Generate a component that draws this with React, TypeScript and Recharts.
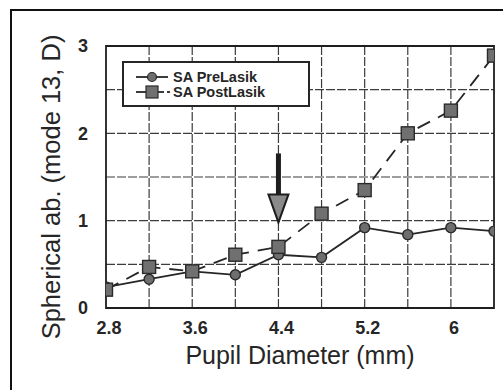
import React from 'react';
import {
  LineChart,
  Line,
  XAxis,
  YAxis,
  CartesianGrid,
  ReferenceArea,
  ReferenceLine,
  ReferenceDot,
  Legend,
} from 'recharts';

// ---- data ----
const pupilDiameters = [2.8, 3.2, 3.6, 4.0, 4.4, 4.8, 5.2, 5.6, 6.0, 6.4];
const saPreLasik = [0.24, 0.33, 0.42, 0.38, 0.61, 0.58, 0.92, 0.84, 0.92, 0.88];
const saPostLasik = [0.21, 0.47, 0.42, 0.61, 0.7, 1.08, 1.35, 2.0, 2.26, 2.89];
const xTicks = [2.8, 3.6, 4.4, 5.2, 6];
const yTicks = [0, 1, 2, 3];
const xGridValues = [3.2, 3.6, 4.0, 4.4, 4.8, 5.2, 5.6, 6.0];
const yGridValues = [0.5, 1, 1.5, 2, 2.5];
const xDomain = [2.8, 6.4];
const yDomain = [0, 3];
const seriesNames = ['SA PreLasik', 'SA PostLasik'];
const arrowX = 4.4;
const arrowTipY = 0.98;
const arrowTopY = 1.77;
const arrowHeadTopY = 1.3;
const xTitle = 'Pupil Diameter (mm)';
const yTitle = 'Spherical ab. (mode 13, D)';

const data = pupilDiameters.map((d, i) => ({ d, pre: saPreLasik[i], post: saPostLasik[i] }));

const FONT = '"Liberation Sans", Arial, Helvetica, sans-serif';
const INK = '#262626';

const CircleDot = (props: any) => {
  const { cx, cy } = props;
  if (cx == null || cy == null) return null;
  return <circle cx={cx} cy={cy} r={5} fill="#6e6e6e" stroke="#2a2a2a" strokeWidth={1.4} />;
};

const SquareDot = (props: any) => {
  const { cx, cy } = props;
  if (cx == null || cy == null) return null;
  return <rect x={cx - 6.5} y={cy - 6.5} width={13} height={13} fill="#707070" stroke="#2a2a2a" strokeWidth={1.4} />;
};

const ArrowHead = (props: any) => {
  const { cx, cy } = props;
  if (cx == null || cy == null) return null;
  return (
    <polygon
      points={`${cx - 10},${cy - 28} ${cx + 10},${cy - 28} ${cx},${cy}`}
      fill="#8a8a8a"
      stroke="#1e1e1e"
      strokeWidth={2}
    />
  );
};

const LegendBox = () => (
  <div
    style={{
      width: 184,
      height: 42,
      border: `2px solid ${INK}`,
      background: '#fff',
    }}
  >
    <svg width={184} height={42} style={{ display: 'block' }}>
      <line x1={12} x2={44} y1={14} y2={14} stroke={INK} strokeWidth={1.8} />
      <circle cx={28} cy={14} r={4.5} fill="#6e6e6e" stroke="#2a2a2a" strokeWidth={1.2} />
      <text x={49} y={19} fontFamily={FONT} fontWeight="bold" fontSize={14.5} fill={INK}>
        {seriesNames[0]}
      </text>
      <line x1={12} x2={40} y1={29} y2={29} stroke={INK} strokeWidth={1.8} />
      <line x1={43} x2={46} y1={29} y2={29} stroke={INK} strokeWidth={1.8} />
      <rect x={22} y={23} width={12} height={12} fill="#707070" stroke="#2a2a2a" strokeWidth={1.2} />
      <text x={49} y={34} fontFamily={FONT} fontWeight="bold" fontSize={14.5} fill={INK}>
        {seriesNames[1]}
      </text>
    </svg>
  </div>
);

export default function App() {
  return (
    <div
      style={{
        position: 'absolute',
        left: 0,
        top: 0,
        width: 503,
        height: 390,
        overflow: 'hidden',
        background: '#fff',
      }}
    >
      <div
        style={{
          position: 'absolute',
          left: 10,
          top: 9,
          width: 700,
          height: 700,
          border: '2px solid #111',
        }}
      />
      <div style={{ position: 'absolute', left: 0, top: 0 }}>
        <LineChart
          width={503}
          height={390}
          data={data}
          margin={{ top: 46, right: 9, bottom: 0, left: 0 }}
        >
          <CartesianGrid
            stroke="#3c3c3c"
            strokeWidth={1.2}
            strokeDasharray="9 2"
            verticalValues={xGridValues}
            horizontalValues={yGridValues}
            vertical
            horizontal
          />
          <XAxis
            dataKey="d"
            type="number"
            domain={xDomain}
            ticks={xTicks}
            allowDataOverflow
            height={82}
            axisLine={false}
            tickLine={false}
            tick={{ fontFamily: FONT, fontSize: 18, fontWeight: 'bold', fill: INK, dx: 3 }}
            tickMargin={7}
            label={{
              value: xTitle,
              position: 'insideBottom',
              offset: 26,
              style: { fontFamily: FONT, fontSize: 25, fill: INK },
            }}
          />
          <YAxis
            type="number"
            domain={yDomain}
            ticks={yTicks}
            width={106}
            axisLine={false}
            tickLine={false}
            tick={{ fontFamily: FONT, fontSize: 18, fontWeight: 'bold', fill: INK }}
            tickMargin={12}
            label={{
              value: yTitle,
              angle: -90,
              position: 'insideLeft',
              offset: 0,
              content: () => (
                <text
                  x={60}
                  y={187}
                  transform="rotate(-90 60 187)"
                  textAnchor="middle"
                  fontFamily={FONT}
                  fontSize={25.5}
                  fill={INK}
                >
                  {yTitle}
                </text>
              ),
            }}
          />
          <ReferenceArea
            x1={xDomain[0]}
            x2={xDomain[1]}
            y1={yDomain[0]}
            y2={yDomain[1]}
            fill="none"
            stroke="#1e1e1e"
            strokeWidth={1.8}
            ifOverflow="visible"
          />
          <ReferenceLine
            segment={[
              { x: arrowX, y: arrowTopY },
              { x: arrowX, y: arrowHeadTopY },
            ]}
            stroke="#1e1e1e"
            strokeWidth={5}
          />
          <ReferenceDot x={arrowX} y={arrowTipY} shape={ArrowHead} ifOverflow="visible" />
          <Line
            type="linear"
            dataKey="pre"
            name={seriesNames[0]}
            stroke={INK}
            strokeWidth={1.8}
            dot={CircleDot}
            activeDot={false}
            isAnimationActive={false}
          />
          <Line
            type="linear"
            dataKey="post"
            name={seriesNames[1]}
            stroke={INK}
            strokeWidth={1.8}
            strokeDasharray="14 9"
            dot={SquareDot}
            activeDot={false}
            isAnimationActive={false}
          />
          <Legend
            layout="horizontal"
            verticalAlign="middle"
            align="center"
            wrapperStyle={{ position: 'absolute', left: 122, top: 61, width: 188, height: 46 }}
            content={() => <LegendBox />}
          />
        </LineChart>
      </div>
    </div>
  );
}
